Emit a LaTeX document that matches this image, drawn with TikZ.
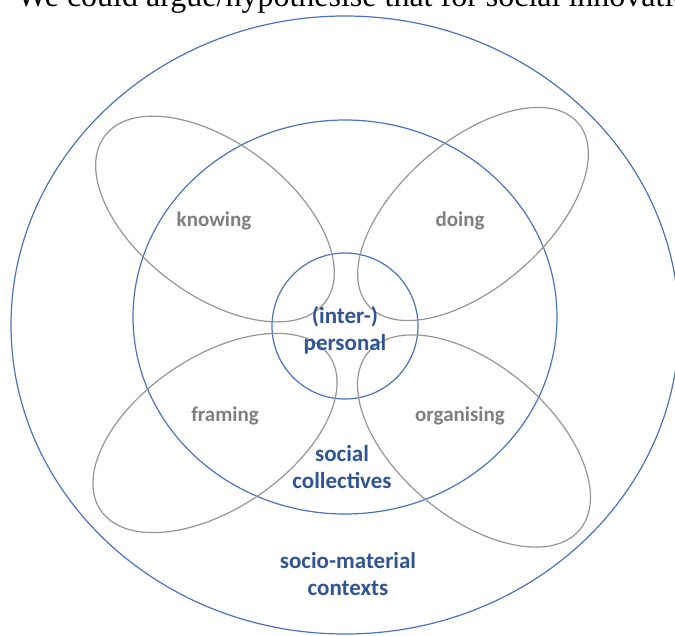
\documentclass[tikz,border=0pt]{standalone}
\usepackage{fontspec}
\setmainfont{Carlito}
\newfontfamily\topserif{Liberation Serif}
\definecolor{ringblue}{HTML}{4A72C0}
\definecolor{textblue}{HTML}{2F5597}
\definecolor{petalgray}{HTML}{959595}
\definecolor{labelgray}{HTML}{7F7F7F}
\tikzset{
  ring/.style={draw=ringblue, line width=1.2pt},
  petal/.style={draw=petalgray, line width=1.2pt},
  graylabel/.style={text=labelgray, font=\bfseries\fontsize{21}{25}\selectfont, inner sep=0pt},
  bluelabel/.style={text=textblue, font=\bfseries\fontsize{23}{27}\selectfont, align=center, inner sep=0pt},
}
\begin{document}
\begin{tikzpicture}[x=1pt,y=-1pt]
\clip (0,0) rectangle (675,635);
% top cut-off sentence
\node[anchor=base west, inner sep=0pt, font=\topserif\fontsize{32}{36}\selectfont] (sentence) at (17,6) {We could argue/hypothesise that for social innovation};
% rings
\draw[ring] (345,325) ellipse [x radius=334pt, y radius=309pt];
\draw[ring] (345,317) ellipse [x radius=212pt, y radius=197pt];
\draw[ring] (345,326) circle [radius=73pt];
% petals
\draw[petal, rotate around={-37:(215,219)}] (215,219) ellipse [x radius=138pt, y radius=76pt];
\draw[petal, rotate around={41:(473,214)}] (473,214) ellipse [x radius=139pt, y radius=73pt];
\draw[petal, rotate around={34:(215,433)}] (215,433) ellipse [x radius=138pt, y radius=76pt];
\draw[petal, rotate around={-40:(474,441)}] (474,441) ellipse [x radius=138pt, y radius=76pt];
% labels
\node[graylabel] (knowing) at (214,221) {knowing};
\node[graylabel] (doing) at (460,221) {doing};
\node[graylabel] (framing) at (225,416) {framing};
\node[graylabel] (organising) at (460,416) {organising};
\node[bluelabel] (personal) at (345,330) {(inter-)\\personal};
\node[bluelabel] (collectives) at (342,467) {social\\collectives};
\node[bluelabel] (contexts) at (348,574) {socio-material\\contexts};
\end{tikzpicture}
\end{document}
